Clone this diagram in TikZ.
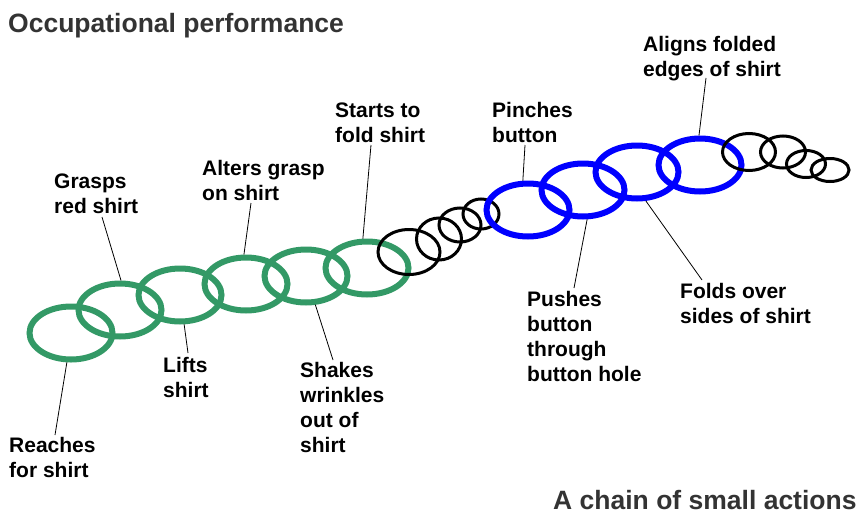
\documentclass[tikz,border=0pt]{standalone}
\usepackage{fontspec}
\setmainfont{Liberation Sans}
\usetikzlibrary{shapes.geometric}
\definecolor{ringgreen}{RGB}{51,153,102}
\definecolor{ringblue}{RGB}{0,0,255}
\definecolor{titlegray}{RGB}{51,51,51}
\tikzset{
  ring/.style={ellipse, draw, inner sep=0pt, fill=none},
  greenring/.style={ring, draw=ringgreen, line width=6pt, minimum width=83pt, minimum height=53pt},
  bluering/.style={ring, draw=ringblue, line width=6pt, minimum width=83pt, minimum height=53pt},
  blackring/.style={ring, draw=black, line width=3pt},
  lbl/.style={anchor=base west, inner sep=0pt, align=left, font=\fontsize{21}{25}\selectfont\bfseries},
  ttl/.style={anchor=base west, inner sep=0pt, text=titlegray, font=\fontsize{26.5}{30}\selectfont\bfseries},
  leader/.style={draw=black, line width=0.8pt}
}
\begin{document}
\begin{tikzpicture}[x=1pt,y=-1pt]
\useasboundingbox (0,0) rectangle (858,514);
% green rings
\node[greenring] (g1) at (71,333) {};
\node[greenring] (g2) at (120,310) {};
\node[greenring] (g3) at (180,295) {};
\node[greenring] (g4) at (246,284) {};
\node[greenring] (g5) at (306,276) {};
\node[greenring] (g6) at (367,268) {};
% black rings between
\node[blackring, minimum width=62pt, minimum height=45pt] (k1) at (409,252) {};
\node[blackring, minimum width=45pt, minimum height=42pt] (k2) at (439,239) {};
\node[blackring, minimum width=42pt, minimum height=34pt] (k3) at (460,225) {};
\node[blackring, minimum width=36pt, minimum height=30pt] (k4) at (481,214) {};
% blue rings
\node[bluering] (b1) at (528,210) {};
\node[bluering] (b2) at (583,190) {};
\node[bluering] (b3) at (637,172) {};
\node[bluering] (b4) at (700,165) {};
% trailing black rings
\node[blackring, minimum width=53pt, minimum height=37pt] (k5) at (749,152) {};
\node[blackring, minimum width=45pt, minimum height=32pt] (k6) at (783,152) {};
\node[blackring, minimum width=39pt, minimum height=27pt] (k7) at (806,164) {};
\node[blackring, minimum width=38pt, minimum height=23pt] (k8) at (830,170) {};
% titles
\node[ttl] (title) at (8,32) {Occupational performance};
\node[ttl] (subtitle) at (553,509) {A chain of small actions};
% labels (anchored at the baseline of the last line)
\node[lbl] (lreach) at (9,477) {Reaches\\for shirt};
\node[lbl] (lgrasp) at (54,213) {Grasps\\red shirt};
\node[lbl] (llift) at (163,397) {Lifts\\shirt};
\node[lbl] (lalter) at (202,200) {Alters grasp\\on shirt};
\node[lbl] (lshake) at (300,452) {Shakes\\wrinkles\\out of\\shirt};
\node[lbl] (lstart) at (335,142) {Starts to\\fold shirt};
\node[lbl] (lpinch) at (492,142) {Pinches\\button};
\node[lbl] (lpush) at (527,381) {Pushes\\button\\through\\button hole};
\node[lbl] (lfold) at (680,323) {Folds over\\sides of shirt};
\node[lbl] (lalign) at (643,76) {Aligns folded\\edges of shirt};
% leader ends
\coordinate (creach) at (55,435);
\coordinate (cgrasp) at (102,217);
\coordinate (clift) at (188,353);
\coordinate (calter) at (251,203);
\coordinate (cshake) at (333,360);
\coordinate (cstart) at (371,145);
\coordinate (cpinch) at (525,145);
\coordinate (cpush) at (574,288);
\coordinate (cfold) at (702,280);
\coordinate (calign) at (706,78);
\draw[leader] (creach) -- (g1.-98);
\draw[leader] (cgrasp) -- (g2.88);
\draw[leader] (clift) -- (g3.-82);
\draw[leader] (calter) -- (g4.94);
\draw[leader] (cshake) -- (g5.-72);
\draw[leader] (cstart) -- (g6.98);
\draw[leader] (cpinch) -- (b1.100);
\draw[leader] (cpush) -- (b2.-82);
\draw[leader] (cfold) -- (b3.-73);
\draw[leader] (calign) -- (b4.92);
\end{tikzpicture}
\end{document}
